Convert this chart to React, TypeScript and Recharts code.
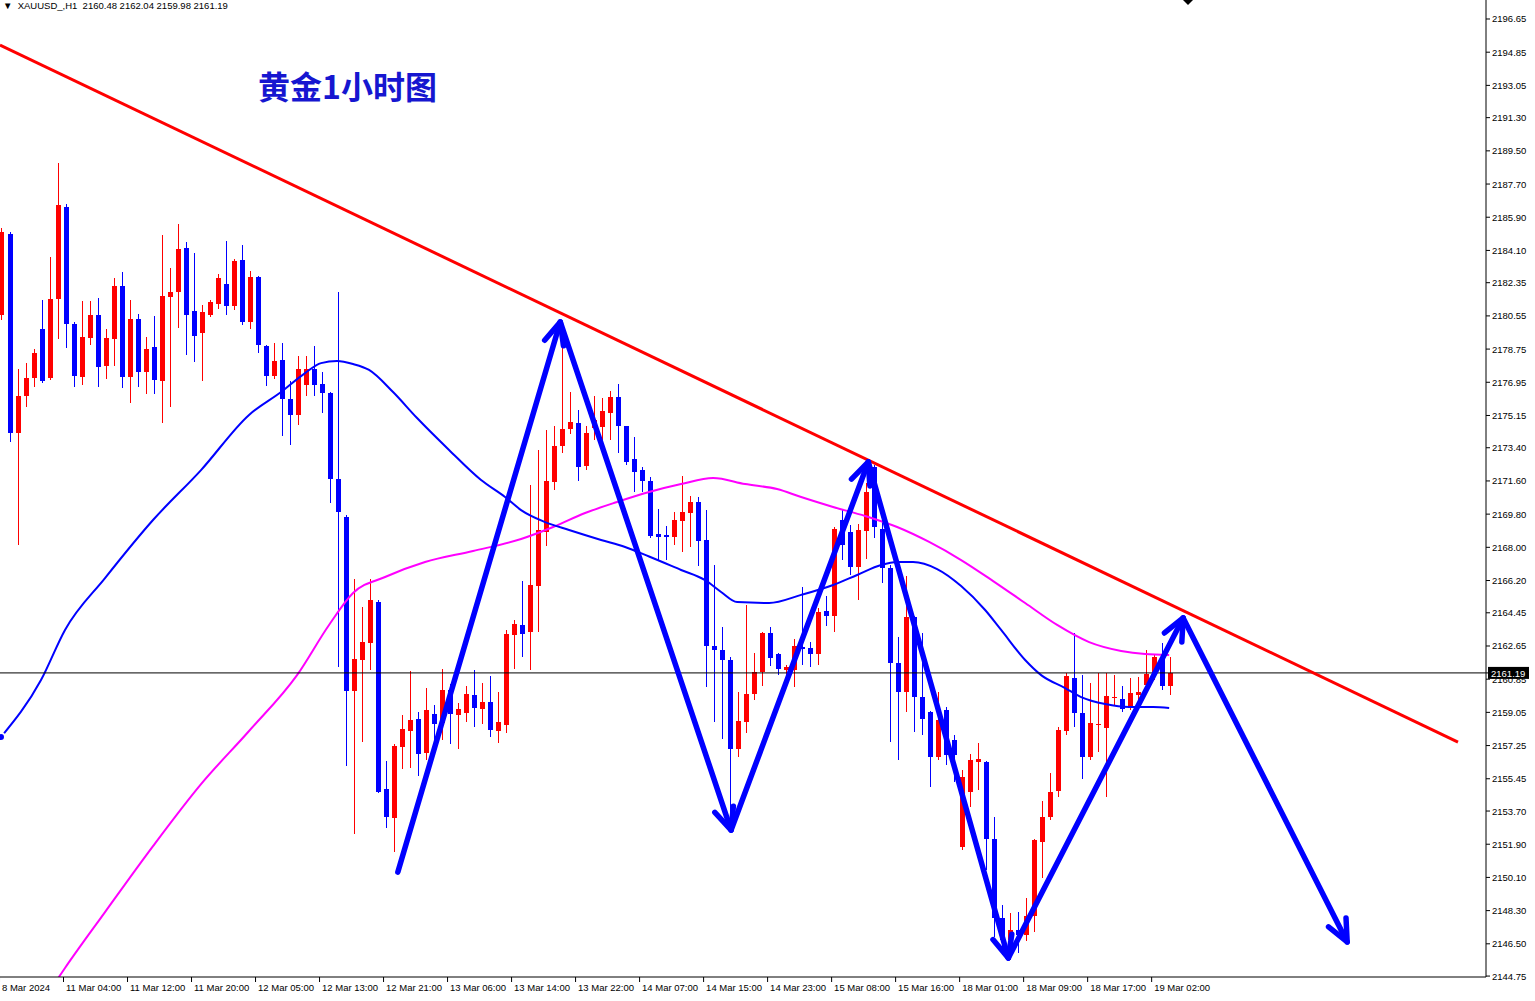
import { ComposedChart, Bar, Line, XAxis, YAxis, ReferenceLine } from "recharts";

// H1 candles, [open, high, low, close]
const ohlc: [number, number, number, number][] = [
  [2180.6, 2185.32, 2180.33, 2185.1], [2184.99, 2185.1, 2173.71, 2174.2], [2174.2, 2177.67, 2168.12, 2176.21],
  [2176.21, 2177.99, 2175.61, 2177.18], [2177.18, 2178.75, 2176.69, 2178.54], [2179.84, 2181.41, 2176.91, 2177.02],
  [2177.18, 2183.74, 2177.07, 2181.47], [2181.47, 2188.84, 2179.3, 2186.56], [2186.45, 2186.61, 2178.81, 2180.11],
  [2180.11, 2180.22, 2176.69, 2177.29], [2177.24, 2181.36, 2176.8, 2179.41], [2179.35, 2181.36, 2178.97, 2180.6],
  [2180.6, 2181.52, 2176.69, 2177.78], [2177.83, 2179.84, 2177.13, 2179.35], [2179.3, 2182.6, 2177.83, 2182.17],
  [2182.17, 2182.93, 2176.64, 2177.24], [2177.24, 2181.41, 2175.83, 2180.38], [2180.38, 2180.65, 2176.69, 2177.51],
  [2177.51, 2179.41, 2176.31, 2178.75], [2178.86, 2180.55, 2176.31, 2177.07], [2177.02, 2184.94, 2174.74, 2181.63],
  [2181.57, 2183.15, 2175.61, 2181.85], [2181.85, 2185.53, 2179.89, 2184.18], [2184.23, 2184.56, 2178.43, 2180.6],
  [2180.81, 2183.96, 2178.05, 2179.46], [2179.62, 2181.14, 2177.02, 2180.76], [2180.6, 2181.41, 2180.49, 2181.3],
  [2181.19, 2182.82, 2180.92, 2182.6], [2182.28, 2184.61, 2180.6, 2181.09], [2181.09, 2183.63, 2180.87, 2183.53],
  [2183.58, 2184.39, 2180.06, 2180.22], [2180.22, 2182.98, 2179.84, 2182.66], [2182.66, 2182.71, 2178.54, 2178.97],
  [2178.92, 2178.97, 2176.75, 2177.29], [2177.29, 2179.08, 2177.13, 2178.1], [2178.16, 2179.08, 2174.04, 2176.04],
  [2176.04, 2177.02, 2173.55, 2175.18], [2175.18, 2178.37, 2174.63, 2177.67], [2176.8, 2178.37, 2176.21, 2177.67],
  [2177.67, 2178.92, 2176.21, 2176.8], [2176.86, 2177.51, 2175.28, 2176.37], [2176.37, 2176.4, 2170.4, 2171.7],
  [2171.7, 2181.85, 2161.51, 2169.91], [2169.64, 2169.75, 2156.14, 2160.21], [2160.21, 2166.28, 2152.45, 2161.94],
  [2161.89, 2164.76, 2157.44, 2162.86], [2162.81, 2166.28, 2161.35, 2165.14], [2165.04, 2165.14, 2154.68, 2154.73],
  [2154.89, 2156.41, 2152.78, 2153.37], [2153.32, 2157.33, 2151.48, 2157.23], [2157.17, 2158.91, 2155.98, 2158.15],
  [2158.04, 2161.29, 2156.03, 2158.63], [2158.69, 2159.07, 2155.6, 2156.79], [2156.85, 2160.37, 2156.46, 2159.18],
  [2158.96, 2159.45, 2157.33, 2158.42], [2158.47, 2161.4, 2157.55, 2160.26], [2160.26, 2160.59, 2157.33, 2158.96],
  [2158.91, 2159.56, 2157.06, 2159.23], [2159.01, 2160.48, 2158.53, 2160.04], [2159.99, 2161.35, 2158.26, 2159.29],
  [2159.23, 2160.64, 2158.42, 2159.61], [2159.61, 2161.02, 2157.71, 2158.09], [2158.04, 2160.15, 2157.39, 2158.53],
  [2158.36, 2163.52, 2157.93, 2163.3], [2163.24, 2164.06, 2161.4, 2163.84], [2163.79, 2166.17, 2162.05, 2163.3],
  [2163.41, 2171.38, 2161.35, 2165.96], [2165.9, 2173.28, 2163.41, 2168.94], [2168.83, 2174.36, 2168.07, 2171.59],
  [2171.54, 2174.58, 2171.11, 2173.49], [2173.49, 2178.86, 2173.12, 2174.42], [2174.42, 2176.42, 2174.15, 2174.8],
  [2174.74, 2175.45, 2171.59, 2172.36], [2172.41, 2174.58, 2172.19, 2174.2], [2174.47, 2176.21, 2173.82, 2174.91],
  [2174.52, 2176.1, 2173.82, 2175.39], [2175.28, 2176.48, 2173.82, 2176.15], [2176.15, 2176.86, 2173.12, 2174.58],
  [2174.58, 2174.6, 2172.46, 2172.63], [2172.79, 2173.98, 2171.0, 2172.08], [2172.19, 2172.36, 2171.0, 2171.59],
  [2171.59, 2171.81, 2168.5, 2168.61], [2168.72, 2170.08, 2167.31, 2168.56], [2168.67, 2169.16, 2167.31, 2168.56],
  [2168.56, 2169.91, 2168.12, 2169.48], [2169.43, 2171.87, 2167.75, 2169.91], [2169.86, 2170.78, 2168.02, 2170.46],
  [2170.46, 2170.73, 2166.99, 2168.34], [2168.4, 2170.02, 2160.42, 2162.65], [2162.65, 2167.04, 2158.53, 2162.43],
  [2162.43, 2163.68, 2157.6, 2161.89], [2161.89, 2162.05, 2153.48, 2157.06], [2157.06, 2160.15, 2156.63, 2158.58],
  [2158.53, 2164.87, 2157.93, 2160.04], [2160.04, 2162.27, 2159.72, 2161.24], [2161.24, 2163.4, 2160.48, 2163.35],
  [2163.35, 2163.68, 2161.56, 2161.99], [2162.21, 2162.27, 2161.07, 2161.4], [2161.35, 2161.62, 2160.64, 2161.51],
  [2161.35, 2163.03, 2160.42, 2162.65], [2162.59, 2165.85, 2161.62, 2162.49], [2162.54, 2162.86, 2161.51, 2162.21],
  [2162.21, 2164.71, 2161.62, 2164.49], [2164.55, 2165.36, 2163.73, 2164.27], [2164.27, 2169.1, 2163.41, 2168.99],
  [2169.48, 2170.02, 2167.31, 2168.12], [2168.83, 2169.21, 2166.5, 2166.93], [2166.93, 2169.26, 2165.14, 2168.94],
  [2168.88, 2171.49, 2167.37, 2171.0], [2172.36, 2172.46, 2168.5, 2169.1], [2168.99, 2169.48, 2166.06, 2166.88],
  [2166.88, 2167.04, 2157.44, 2161.73], [2161.73, 2163.14, 2156.46, 2160.15], [2160.15, 2166.44, 2159.07, 2164.22],
  [2164.22, 2164.25, 2157.98, 2159.88], [2159.88, 2163.35, 2157.82, 2158.69], [2159.07, 2159.1, 2155.0, 2156.63],
  [2156.63, 2160.15, 2156.46, 2158.63], [2159.18, 2159.34, 2156.19, 2156.74], [2157.55, 2157.82, 2155.27, 2156.74],
  [2151.75, 2155.92, 2151.59, 2155.54], [2154.73, 2156.79, 2153.92, 2156.46], [2156.36, 2157.39, 2154.84, 2156.52],
  [2156.36, 2156.4, 2150.5, 2152.18], [2152.18, 2153.37, 2146.87, 2147.9], [2147.9, 2148.6, 2145.89, 2146.71],
  [2146.71, 2148.17, 2145.89, 2147.24], [2147.24, 2148.22, 2146.0, 2146.98], [2146.98, 2148.98, 2146.65, 2148.01],
  [2148.01, 2152.2, 2147.14, 2152.13], [2152.02, 2154.24, 2150.07, 2153.37], [2153.37, 2155.76, 2153.21, 2154.73],
  [2154.78, 2158.26, 2154.46, 2158.09], [2158.04, 2161.18, 2157.82, 2161.02], [2160.91, 2163.35, 2158.26, 2159.01],
  [2159.01, 2161.07, 2155.44, 2156.63], [2156.63, 2160.64, 2156.46, 2158.47], [2158.36, 2161.18, 2156.9, 2158.42],
  [2158.2, 2161.18, 2154.46, 2159.94], [2159.83, 2161.07, 2159.45, 2159.88], [2159.77, 2160.48, 2159.07, 2159.23],
  [2159.34, 2160.91, 2159.18, 2160.1], [2159.99, 2160.96, 2159.72, 2160.15], [2160.53, 2162.43, 2160.26, 2161.13],
  [2161.18, 2162.16, 2160.8, 2162.05], [2162.05, 2162.81, 2160.26, 2160.48], [2160.48, 2162.04, 2159.98, 2161.19],
];

// [bar index, label]
const timeLabels: [number, string][] = [
  [0, "8 Mar 2024"], [8, "11 Mar 04:00"], [16, "11 Mar 12:00"], [24, "11 Mar 20:00"],
  [32, "12 Mar 05:00"], [40, "12 Mar 13:00"], [48, "12 Mar 21:00"], [56, "13 Mar 06:00"],
  [64, "13 Mar 14:00"], [72, "13 Mar 22:00"], [80, "14 Mar 07:00"], [88, "14 Mar 15:00"],
  [96, "14 Mar 23:00"], [104, "15 Mar 08:00"], [112, "15 Mar 16:00"], [120, "18 Mar 01:00"],
  [128, "18 Mar 09:00"], [136, "18 Mar 17:00"], [144, "19 Mar 02:00"],
];

const priceTicks = [
  2196.65, 2194.85, 2193.05, 2191.3, 2189.5, 2187.7, 2185.9, 2184.1, 2182.35, 2180.55,
  2178.75, 2176.95, 2175.15, 2173.4, 2171.6, 2169.8, 2168.0, 2166.2, 2164.45, 2162.65,
  2160.85, 2159.05, 2157.25, 2155.45, 2153.7, 2151.9, 2150.1, 2148.3, 2146.5, 2144.75,
];

// moving averages, [bar index, price]
const blueMA: [number, number][] = [
  [0, 2157.71], [5, 2160.8], [8, 2163.52], [13, 2166.33], [19, 2169.48], [25, 2172.19],
  [31, 2175.18], [35, 2176.42], [38, 2177.45], [40, 2177.99], [42, 2178.1], [44, 2177.94],
  [46, 2177.62], [49, 2176.42], [52, 2175.01], [56, 2173.28], [60, 2171.65], [63, 2170.73],
  [65, 2170.02], [68, 2169.37], [71, 2168.94], [75, 2168.4], [78, 2168.02], [81, 2167.5],
  [85, 2166.77], [88, 2166.22], [90, 2165.58], [92, 2165.03], [96, 2164.98], [100, 2165.42],
  [104, 2165.96], [107, 2166.5], [110, 2167.04], [112, 2167.2], [114, 2167.2], [117, 2166.82],
  [120, 2165.9], [123, 2164.6], [125, 2163.52], [128, 2161.89], [130, 2161.07], [133, 2160.37],
  [135, 2159.88], [138, 2159.5], [141, 2159.34], [144, 2159.34], [146, 2159.29],
];

const magentaMA: [number, number][] = [
  [5, 2143.23], [8, 2145.19], [13, 2148.22], [19, 2151.8], [25, 2155.16], [31, 2158.04],
  [37, 2161.07], [41, 2163.79], [44, 2165.52], [48, 2166.39], [53, 2167.2], [59, 2167.8],
  [65, 2168.45], [69, 2169.1], [73, 2169.86], [77, 2170.46], [81, 2171.0], [85, 2171.43],
  [89, 2171.76], [93, 2171.43], [97, 2171.16], [100, 2170.73], [104, 2170.19], [108, 2169.7],
  [112, 2169.1], [116, 2168.29], [120, 2167.31], [124, 2166.17], [128, 2164.98], [132, 2163.79],
  [136, 2162.86], [140, 2162.38], [143, 2162.21], [146, 2162.16],
];

// drawn objects, in bar index / price
const trendLine = [{ x: -0.125, y: 2195.24 }, { x: 182.1, y: 2157.44 }];
const zigzag: [number, number][] = [
  [49.6, 2150.39], [69.9, 2180.22], [91.25, 2152.67], [108.4, 2172.63],
  [125.9, 2145.73], [147.75, 2164.17], [168.25, 2146.6],
];

const lastPrice = 2161.19;
const UP = "#ff0000";
const DOWN = "#0000ff";
const AXIS_FONT = "'Liberation Sans', Arial, sans-serif";

const blueMap = new Map(blueMA);
const magentaMap = new Map(magentaMA);
const labelMap = new Map(timeLabels);

const data = ohlc.map(([o, h, l, c], i) => ({
  i, o, h, l, c,
  range: [l, h],
  ma1: blueMap.get(i),
  ma2: magentaMap.get(i),
}));

function Candle(props: any) {
  const { x, y, width, height, payload } = props;
  const { o, h, l, c } = payload;
  const top = Math.min(y, y + height);
  const span = Math.abs(height);
  const k = h === l ? 0 : span / (h - l);
  const yo = top + (h - o) * k;
  const yc = top + (h - c) * k;
  const color = c >= o ? UP : DOWN;
  const cx = Math.round(x + width / 2);
  return (
    <g shapeRendering="crispEdges">
      <line x1={cx + 0.5} x2={cx + 0.5} y1={top} y2={top + span} stroke={color} strokeWidth={1} />
      <rect x={cx - 2} y={Math.min(yo, yc)} width={5} height={Math.max(1, Math.abs(yo - yc))} fill={color} />
    </g>
  );
}

function TimeTick(props: any) {
  const { x, y, payload } = props;
  return (
    <g>
      <line x1={x - 1.5} x2={x - 1.5} y1={y} y2={y + 5} stroke="#000" />
      <text x={x + 1} y={y + 14} fontSize={9.5} fontFamily={AXIS_FONT} fill="#000">
        {labelMap.get(payload.value) ?? ""}
      </text>
    </g>
  );
}

function PriceTick(props: any) {
  const { x, y, payload } = props;
  return (
    <text x={x} y={y + 3.5} fontSize={9.5} fontFamily={AXIS_FONT} fill="#000">
      {Number(payload.value).toFixed(2)}
    </text>
  );
}

function PriceTag(props: any) {
  const vb = props.viewBox || {};
  const x = (vb.x ?? 0) + (vb.width ?? 1486);
  const y = vb.y ?? 673;
  return (
    <g>
      <line x1={x} x2={x + 4} y1={y} y2={y} stroke="#000" />
      <rect x={x + 2} y={y - 6} width={41} height={12} fill="#000" />
      <text x={x + 5} y={y + 4} fontSize={9.5} fontFamily={AXIS_FONT} fill="#fff">
        {lastPrice.toFixed(2)}
      </text>
    </g>
  );
}

function Arrow(props: any) {
  const { x1, y1, x2, y2 } = props;
  const ang = Math.atan2(y2 - y1, x2 - x1);
  const len = 24;
  const spread = 0.42;
  const w1x = x2 - len * Math.cos(ang - spread);
  const w1y = y2 - len * Math.sin(ang - spread);
  const w2x = x2 - len * Math.cos(ang + spread);
  const w2y = y2 - len * Math.sin(ang + spread);
  return (
    <g stroke={DOWN} strokeWidth={5.5} fill="none" strokeLinecap="round" strokeLinejoin="round">
      <line x1={x1} y1={y1} x2={x2} y2={y2} />
      <polyline points={`${w1x},${w1y} ${x2},${y2} ${w2x},${w2y}`} />
    </g>
  );
}

export default function App() {
  const segments = zigzag.slice(1).map((p, k) => [zigzag[k], p]);
  return (
    <div style={{ position: "absolute", left: 0, top: 0, width: 1535, height: 1001, background: "#fff" }}>
      <ComposedChart width={1535} height={1001} data={data} margin={{ top: 0, right: 0, bottom: 0, left: 0 }}>
        <XAxis
          dataKey="i"
          type="number"
          domain={[-0.125, 185.6]}
          allowDataOverflow
          ticks={timeLabels.map((t) => t[0])}
          tick={<TimeTick />}
          tickLine={false}
          tickSize={0}
          tickMargin={0}
          height={24}
          axisLine={{ stroke: "#000" }}
          interval={0}
        />
        <YAxis
          orientation="right"
          width={49}
          domain={[2144.7, 2197.68]}
          allowDataOverflow
          ticks={priceTicks}
          tick={<PriceTick />}
          tickSize={4}
          tickMargin={2}
          tickLine={{ stroke: "#000" }}
          axisLine={{ stroke: "#000" }}
          interval={0}
        />
        <Bar dataKey="range" barSize={5} shape={<Candle />} isAnimationActive={false} />
        <Line dataKey="ma2" type="monotone" stroke="#ff00ff" strokeWidth={2} dot={false} connectNulls isAnimationActive={false} />
        <Line dataKey="ma1" type="monotone" stroke="#0000ff" strokeWidth={2} dot={false} connectNulls isAnimationActive={false} />
        <ReferenceLine y={lastPrice} stroke="#000" strokeWidth={1} label={PriceTag} />
        <ReferenceLine segment={trendLine} stroke="#ff0000" strokeWidth={3} ifOverflow="visible" />
        {segments.map(([a, b], k) => (
          <ReferenceLine
            key={k}
            segment={[{ x: a[0], y: a[1] }, { x: b[0], y: b[1] }]}
            ifOverflow="visible"
            shape={Arrow}
          />
        ))}
      </ComposedChart>
      <div
        style={{
          position: "absolute", left: 3, top: 0, fontFamily: AXIS_FONT, fontSize: 9.5,
          color: "#000", whiteSpace: "pre",
        }}
      >
        {"▼  XAUUSD_,H1  2160.48 2162.04 2159.98 2161.19"}
      </div>
      <div
        style={{
          position: "absolute", left: 1183, top: 0, width: 0, height: 0,
          borderLeft: "5px solid transparent", borderRight: "5px solid transparent",
          borderTop: "5px solid #000",
        }}
      />
      <div
        style={{
          position: "absolute", left: 258, top: 62, fontFamily: "'Noto Sans CJK SC', sans-serif",
          fontSize: 32, fontWeight: 700, color: "#1616d0", whiteSpace: "pre",
        }}
      >
        黄金1小时图
      </div>
    </div>
  );
}
